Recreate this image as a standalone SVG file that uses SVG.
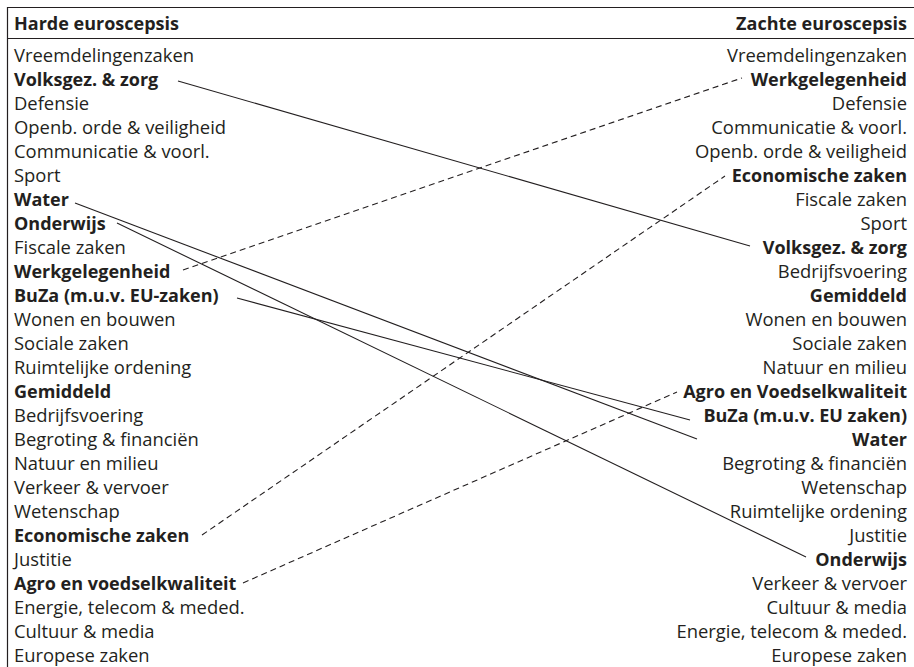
<svg xmlns="http://www.w3.org/2000/svg" width="914" height="667" viewBox="0 0 914 667">
<style>
text{font-family:"Open Sans","Noto Sans","Liberation Sans",sans-serif;font-size:18.4px;fill:#231f20}
.b{font-weight:bold;font-size:18px}
.r{text-anchor:end}
.frame{stroke:#231f20;stroke-width:1.2;fill:none}
.c{stroke:#231f20;stroke-width:1.1;fill:none}
.d{stroke-dasharray:6 4}
</style>
<rect width="914" height="667" fill="#fff"/>
<g id="frame">
<path class="frame" d="M7.5,667 V7.5 H914 M7.5,38.5 H914"/>
</g>
<g id="headers">
<text id="h-left" class="b" x="14" y="30">Harde euroscepsis</text>
<text id="h-right" class="b r" x="907" y="30">Zachte euroscepsis</text>
</g>
<g id="left">
<g id="L0"><text x="14" y="62">Vreemdelingenzaken</text></g>
<g id="L1"><text class="b" x="14" y="86">Volksgez. &amp; zorg</text></g>
<g id="L2"><text x="14" y="110">Defensie</text></g>
<g id="L3"><text x="14" y="134">Openb. orde &amp; veiligheid</text></g>
<g id="L4"><text x="14" y="158">Communicatie &amp; voorl.</text></g>
<g id="L5"><text x="14" y="182">Sport</text></g>
<g id="L6"><text class="b" x="14" y="206">Water</text></g>
<g id="L7"><text class="b" x="14" y="230">Onderwijs</text></g>
<g id="L8"><text x="14" y="254">Fiscale zaken</text></g>
<g id="L9"><text class="b" x="14" y="278">Werkgelegenheid</text></g>
<g id="L10"><text class="b" x="14" y="302">BuZa (m.u.v. EU-zaken)</text></g>
<g id="L11"><text x="14" y="326">Wonen en bouwen</text></g>
<g id="L12"><text x="14" y="350">Sociale zaken</text></g>
<g id="L13"><text x="14" y="374">Ruimtelijke ordening</text></g>
<g id="L14"><text class="b" x="14" y="398">Gemiddeld</text></g>
<g id="L15"><text x="14" y="422">Bedrijfsvoering</text></g>
<g id="L16"><text x="14" y="446">Begroting &amp; financiën</text></g>
<g id="L17"><text x="14" y="470">Natuur en milieu</text></g>
<g id="L18"><text x="14" y="494">Verkeer &amp; vervoer</text></g>
<g id="L19"><text x="14" y="518">Wetenschap</text></g>
<g id="L20"><text class="b" x="14" y="542">Economische zaken</text></g>
<g id="L21"><text x="14" y="566">Justitie</text></g>
<g id="L22"><text class="b" x="14" y="590">Agro en voedselkwaliteit</text></g>
<g id="L23"><text x="14" y="614">Energie, telecom &amp; meded.</text></g>
<g id="L24"><text x="14" y="638">Cultuur &amp; media</text></g>
<g id="L25"><text x="14" y="662">Europese zaken</text></g>
</g>
<g id="right">
<g id="R0"><text class="r" x="907" y="62">Vreemdelingenzaken</text></g>
<g id="R1"><text class="b r" x="907" y="86">Werkgelegenheid</text></g>
<g id="R2"><text class="r" x="907" y="110">Defensie</text></g>
<g id="R3"><text class="r" x="907" y="134">Communicatie &amp; voorl.</text></g>
<g id="R4"><text class="r" x="907" y="158">Openb. orde &amp; veiligheid</text></g>
<g id="R5"><text class="b r" x="907" y="182">Economische zaken</text></g>
<g id="R6"><text class="r" x="907" y="206">Fiscale zaken</text></g>
<g id="R7"><text class="r" x="907" y="230">Sport</text></g>
<g id="R8"><text class="b r" x="907" y="254">Volksgez. &amp; zorg</text></g>
<g id="R9"><text class="r" x="907" y="278">Bedrijfsvoering</text></g>
<g id="R10"><text class="b r" x="907" y="302">Gemiddeld</text></g>
<g id="R11"><text class="r" x="907" y="326">Wonen en bouwen</text></g>
<g id="R12"><text class="r" x="907" y="350">Sociale zaken</text></g>
<g id="R13"><text class="r" x="907" y="374">Natuur en milieu</text></g>
<g id="R14"><text class="b r" x="907" y="398">Agro en Voedselkwaliteit</text></g>
<g id="R15"><text class="b r" x="907" y="422">BuZa (m.u.v. EU zaken)</text></g>
<g id="R16"><text class="b r" x="907" y="446">Water</text></g>
<g id="R17"><text class="r" x="907" y="470">Begroting &amp; financiën</text></g>
<g id="R18"><text class="r" x="907" y="494">Wetenschap</text></g>
<g id="R19"><text class="r" x="907" y="518">Ruimtelijke ordening</text></g>
<g id="R20"><text class="r" x="907" y="542">Justitie</text></g>
<g id="R21"><text class="b r" x="907" y="566">Onderwijs</text></g>
<g id="R22"><text class="r" x="907" y="590">Verkeer &amp; vervoer</text></g>
<g id="R23"><text class="r" x="907" y="614">Cultuur &amp; media</text></g>
<g id="R24"><text class="r" x="907" y="638">Energie, telecom &amp; meded.</text></g>
<g id="R25"><text class="r" x="907" y="662">Europese zaken</text></g>
</g>
<g id="connectors">
<line class="c" x1="178" y1="81" x2="750" y2="246"/>
<line class="c" x1="75" y1="203" x2="697" y2="439"/>
<line class="c" x1="117" y1="223" x2="806" y2="557"/>
<line class="c" x1="237" y1="298" x2="690" y2="420"/>
<line class="c d" x1="183" y1="270" x2="742" y2="78"/>
<line class="c d" x1="202" y1="535" x2="725" y2="176"/>
<line class="c d" x1="243" y1="583" x2="677" y2="392"/>
</g>
</svg>
